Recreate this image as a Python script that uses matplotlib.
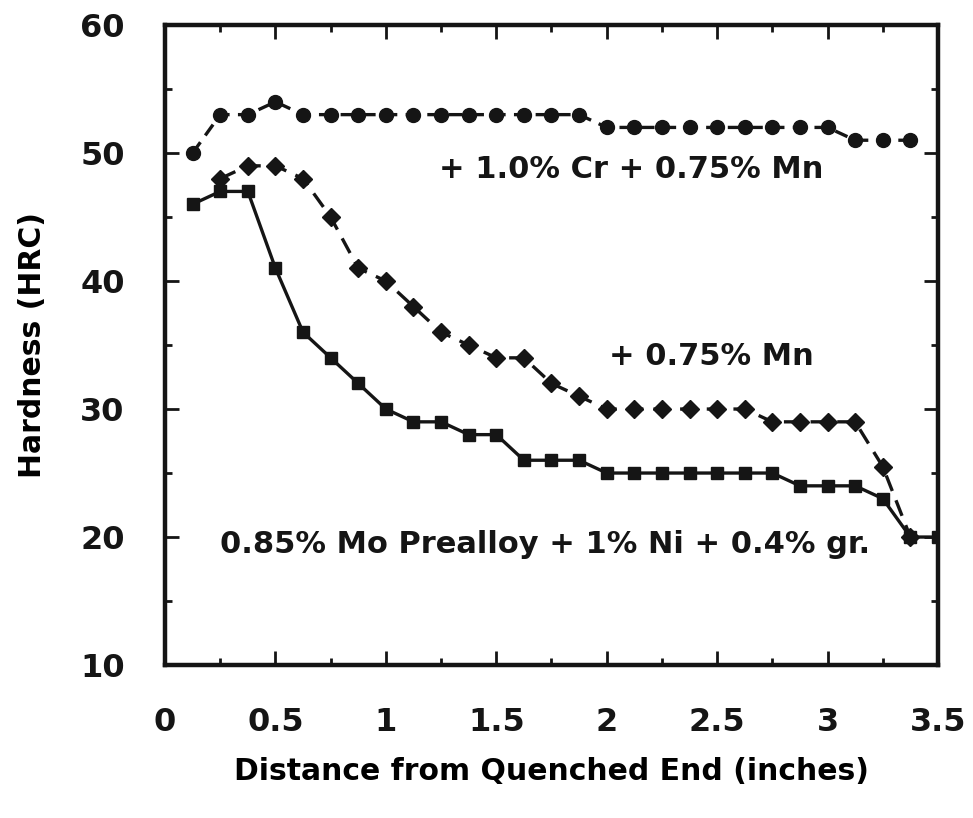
import matplotlib
matplotlib.use("Agg")
import matplotlib.pyplot as plt
from matplotlib.ticker import MultipleLocator

# Data (distance in inches, hardness HRC)
x_cr = [0.125, 0.25, 0.375, 0.5, 0.625, 0.75, 0.875, 1.0, 1.125, 1.25, 1.375, 1.5, 1.625, 1.75,
        1.875, 2.0, 2.125, 2.25, 2.375, 2.5, 2.625, 2.75, 2.875, 3.0, 3.125, 3.25, 3.375]
y_cr = [50, 53, 53, 54, 53, 53, 53, 53, 53, 53, 53, 53, 53, 53,
        53, 52, 52, 52, 52, 52, 52, 52, 52, 52, 51, 51, 51]

x_mn = [0.25, 0.375, 0.5, 0.625, 0.75, 0.875, 1.0, 1.125, 1.25, 1.375, 1.5, 1.625, 1.75,
        1.875, 2.0, 2.125, 2.25, 2.375, 2.5, 2.625, 2.75, 2.875, 3.0, 3.125, 3.25, 3.375]
y_mn = [48, 49, 49, 48, 45, 41, 40, 38, 36, 35, 34, 34, 32,
        31, 30, 30, 30, 30, 30, 30, 29, 29, 29, 29, 25.5, 20]

x_base = [0.125, 0.25, 0.375, 0.5, 0.625, 0.75, 0.875, 1.0, 1.125, 1.25, 1.375, 1.5, 1.625, 1.75,
          1.875, 2.0, 2.125, 2.25, 2.375, 2.5, 2.625, 2.75, 2.875, 3.0, 3.125, 3.25, 3.375, 3.5]
y_base = [46, 47, 47, 41, 36, 34, 32, 30, 29, 29, 28, 28, 26, 26,
          26, 25, 25, 25, 25, 25, 25, 25, 24, 24, 24, 23, 20, 20]

xticks = [0, 0.5, 1, 1.5, 2, 2.5, 3, 3.5]
xticklabels = ["0", "0.5", "1", "1.5", "2", "2.5", "3", "3.5"]
yticks = [10, 20, 30, 40, 50, 60]

label_cr = "+ 1.0% Cr + 0.75% Mn"
label_mn = "+ 0.75% Mn"
label_base = "0.85% Mo Prealloy + 1% Ni + 0.4% gr."

plt.rcParams['font.family'] = ['DejaVu Sans']
plt.rcParams['font.weight'] = 'bold'

ink = "#151515"
fig = plt.figure(figsize=(9.73, 8.18), dpi=100)
ax = fig.add_axes([0.1696, 0.187, 0.7944, 0.7824])

ax.plot(x_cr, y_cr, color=ink, lw=2.4, ls=(0, (4, 2.5)), marker='o', ms=10, mfc=ink, mec=ink)
ax.plot(x_mn, y_mn, color=ink, lw=2.4, ls=(0, (5, 3)), marker='D', ms=9, mfc=ink, mec=ink)
ax.plot(x_base, y_base, color=ink, lw=2.4, ls='-', marker='s', ms=8.5, mfc=ink, mec=ink)

ax.set_xlim(0, 3.5)
ax.set_ylim(10, 60)
ax.set_xticks(xticks)
ax.set_xticklabels(xticklabels)
ax.set_yticks(yticks)
ax.xaxis.set_minor_locator(MultipleLocator(0.25))
ax.yaxis.set_minor_locator(MultipleLocator(5))
ax.tick_params(which='both', direction='in', top=True, right=True, width=2, colors=ink)
ax.tick_params(which='major', length=10)
ax.tick_params(which='minor', length=5)
ax.tick_params(axis='y', pad=29, labelsize=23)
ax.tick_params(axis='x', pad=30, labelsize=23)
for lab in ax.get_xticklabels() + ax.get_yticklabels():
    lab.set_fontweight('bold')
for s in ax.spines.values():
    s.set_linewidth(3.2)
    s.set_color(ink)

ax.set_xlabel("Distance from Quenched End (inches)", fontsize=21.5, fontweight='bold', labelpad=14)
ax.set_ylabel("Hardness (HRC)", fontsize=21.5, fontweight='bold', labelpad=24)

ax.text(1.24, 48.7, label_cr, fontsize=22, fontweight='bold', va='center', ha='left', color=ink)
ax.text(2.01, 34.1, label_mn, fontsize=22, fontweight='bold', va='center', ha='left', color=ink)
ax.text(0.25, 19.4, label_base, fontsize=22, fontweight='bold', va='center', ha='left', color=ink)

fig.savefig("out.png", dpi=100)
